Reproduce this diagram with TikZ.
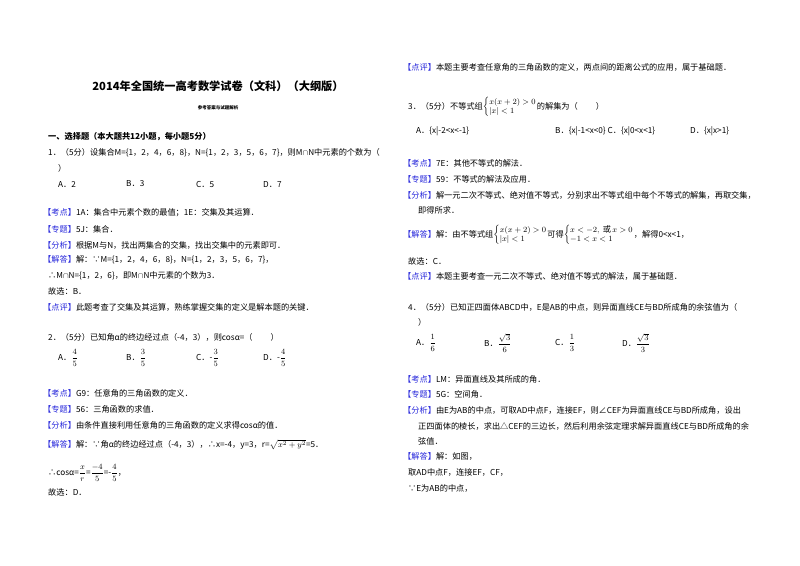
\documentclass[tikz,border=0pt]{standalone}
\usepackage{fontspec}
\setmainfont{Noto Sans CJK SC}
\usepackage{amsmath}
\definecolor{lab}{RGB}{40,40,220}
\newcommand{\putline}[4]{\node[txt] (#1) at (#2pt,-#3pt) {#4};}
\newcommand{\kb}[1]{{\color{lab}【#1】}}
\newcommand{\fr}[2]{$\dfrac{#1}{#2}$}
\begin{document}
\begin{tikzpicture}[x=1pt,y=1pt,txt/.style={anchor=west,inner sep=0pt,font=\fontsize{8.2}{9}\selectfont}]
\useasboundingbox[fill=white] (0,0) rectangle (800,-565);
\node[font=\fontsize{11.2}{12}\bfseries\selectfont,inner sep=0] (title) at (218,-86) {2014年全国统一高考数学试卷（文科）（大纲版）};
\node[font=\fontsize{4.5}{5}\bfseries\selectfont,inner sep=0] (sub) at (218,-108) {参考答案与试题解析};
\putline{s1}{48}{137}{\bfseries 一、选择题（本大题共12小题，每小题5分）}
\putline{q1}{48}{153}{1．（5分）设集合M=\{1，2，4，6，8\}，N=\{1，2，3，5，6，7\}，则M$\cap$N中元素的个数为（}
\putline{q1b}{58}{168}{）}
\putline{q1A}{58}{184}{A．2}
\putline{q1B}{126}{184}{B．3}
\putline{q1C}{196}{184}{C．5}
\putline{q1D}{263}{184}{D．7}
\putline{k1}{43}{213}{\kb{考点}1A：集合中元素个数的最值；1E：交集及其运算．}
\putline{z1}{43}{229}{\kb{专题}5J：集合．}
\putline{f1}{43}{245}{\kb{分析}根据M与N，找出两集合的交集，找出交集中的元素即可．}
\putline{j1}{43}{260}{\kb{解答}解：∵M=\{1，2，4，6，8\}，N=\{1，2，3，5，6，7\}，}
\putline{j1b}{48}{276}{∴M$\cap$N=\{1，2，6\}，即M$\cap$N中元素的个数为3．}
\putline{g1}{48}{291}{故选：B．}
\putline{d1}{43}{307}{\kb{点评}此题考查了交集及其运算，熟练掌握交集的定义是解本题的关键．}
\putline{q2}{48}{337}{2．（5分）已知角α的终边经过点（-4，3），则cosα=（\hspace{2.2em}）}
\putline{q2A}{58}{358}{A．\fr45}
\putline{q2B}{126}{358}{B．\fr35}
\putline{q2C}{196}{358}{C．-\fr35}
\putline{q2D}{263}{358}{D．-\fr45}
\putline{k2}{43}{393}{\kb{考点}G9：任意角的三角函数的定义．}
\putline{z2}{43}{409}{\kb{专题}56：三角函数的求值．}
\putline{f2}{43}{425}{\kb{分析}由条件直接利用任意角的三角函数的定义求得cosα的值．}
\putline{j2}{43}{445}{\kb{解答}解：∵角α的终边经过点（-4，3），∴x=-4，y=3，r=$\sqrt{x^2+y^2}$=5．}
\putline{j2b}{48}{473}{∴cosα=\fr xr=\fr{-4}5=-\fr45，}
\putline{g2}{48}{492}{故选：D．}
\putline{d2}{403}{67}{\kb{点评}本题主要考查任意角的三角函数的定义，两点间的距离公式的应用，属于基础题．}
\putline{q3}{408}{107}{3．（5分）不等式组$\left\{\begin{array}{@{}l@{}}x(x+2)>0\\ |x|<1\end{array}\right.$的解集为（\hspace{2.2em}）}
\putline{q3A}{416}{131}{A．\{x|-2<x<-1\}}
\putline{q3B}{555}{131}{B．\{x|-1<x<0\}\ C．\{x|0<x<1\}}
\putline{q3D}{690}{131}{D．\{x|x>1\}}
\putline{k3}{403}{163}{\kb{考点}7E：其他不等式的解法．}
\putline{z3}{403}{179}{\kb{专题}59：不等式的解法及应用．}
\putline{f3}{403}{195}{\kb{分析}解一元二次不等式、绝对值不等式，分别求出不等式组中每个不等式的解集，再取交集，}
\putline{f3b}{418}{210}{即得所求．}
\putline{j3}{403}{235}{\kb{解答}解：由不等式组$\left\{\begin{array}{@{}l@{}}x(x+2)>0\\ |x|<1\end{array}\right.$可得$\left\{\begin{array}{@{}l@{}}x<-2,\ \text{或}\,x>0\\ -1<x<1\end{array}\right.$，解得0<x<1，}
\putline{g3}{408}{261}{故选：C．}
\putline{d3}{403}{276}{\kb{点评}本题主要考查一元二次不等式、绝对值不等式的解法，属于基础题．}
\putline{q4}{408}{307}{4．（5分）已知正四面体ABCD中，E是AB的中点，则异面直线CE与BD所成角的余弦值为（}
\putline{q4b}{418}{322}{）}
\putline{q4A}{416}{343}{A．\fr16}
\putline{q4B}{484}{343}{B．\fr{\sqrt3}6}
\putline{q4C}{555}{343}{C．\fr13}
\putline{q4D}{622}{343}{D．\fr{\sqrt3}3}
\putline{k4}{403}{379}{\kb{考点}LM：异面直线及其所成的角．}
\putline{z4}{403}{394}{\kb{专题}5G：空间角．}
\putline{f4}{403}{410}{\kb{分析}由E为AB的中点，可取AD中点F，连接EF，则∠CEF为异面直线CE与BD所成角，设出}
\putline{f4b}{418}{426}{正四面体的棱长，求出△CEF的三边长，然后利用余弦定理求解异面直线CE与BD所成角的余}
\putline{f4c}{418}{441}{弦值．}
\putline{j4}{403}{456}{\kb{解答}解：如图，}
\putline{j4b}{408}{472}{取AD中点F，连接EF，CF，}
\putline{j4c}{408}{488}{∵E为AB的中点，}
\end{tikzpicture}
\end{document}
